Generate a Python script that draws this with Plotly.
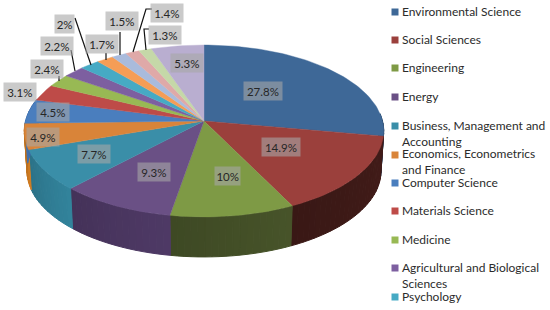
import math
import plotly.graph_objects as go

categories = ["Environmental Science", "Social Sciences", "Engineering", "Energy",
              "Business, Management and Accounting", "Economics, Econometrics and Finance",
              "Computer Science", "Materials Science", "Medicine",
              "Agricultural and Biological Sciences", "Psychology", "Arts and Humanities",
              "Chemistry", "Earth and Planetary Sciences", "Biochemistry", "Other"]
values = [27.8, 14.9, 10, 9.3, 7.7, 4.9, 4.5, 3.1, 2.4, 2.2, 2, 1.7, 1.5, 1.4, 1.3, 5.3]
value_labels = ["27.8%", "14.9%", "10%", "9.3%", "7.7%", "4.9%", "4.5%", "3.1%", "2.4%",
                "2.2%", "2%", "1.7%", "1.5%", "1.4%", "1.3%", "5.3%"]
colors = ["#3E6897", "#9B403C", "#7E9A45", "#6A5085", "#3A8EA8", "#D98439", "#4A7EBE",
          "#BE4B48", "#98B954", "#7D5FA0", "#46AAC4", "#F59D56", "#A9BBDC", "#DFA9A8",
          "#C5D8A8", "#B9AED0"]
wall_colors = ["#2A4666", "#3E1A17", "#434F27", "#4A3660", "#2F7C93", "#C9771F", "#3D6CA8",
               "#A8403D", "#85A348", "#6D5290", "#3A94AC", "#D98A48", "#93A5C4", "#C49494",
               "#AEC092", "#A398B8"]

# chart geometry (pixels)
CX, CY, A, B, P, DEPTH, SHRINK = 204.0, 121.0, 178.5, 84.8, 0.116, 40.0, 0.985
label_pos = [(263, 91), (281, 147), (227, 176), (154, 172), (94, 154), (43, 137), (53, 112),
             (20, 92), (47, 69), (57, 46), (64, 24), (102, 44), (122, 21), (167, 13),
             (165, 35), (187, 63)]
leaders = [[(59, 76), (59, 81)], [(71, 50), (75, 71)], [(75, 18), (91, 65)], [(106, 53), (106, 60)],
           [(120, 32), (120, 55)], [(152, 9), (146, 9), (133, 52)], [(149, 29), (144, 29), (146, 50)]]
legend_rows = [("Environmental Science", 12), ("Social Sciences", 40), ("Engineering", 68),
               ("Energy", 97), ("Business, Management and", 126), ("Accounting", None),
               ("Economics, Econometrics", 155), ("and Finance", None), ("Computer Science", 183),
               ("Materials Science", 211), ("Medicine", 240), ("Agricultural and Biological", 268),
               ("Sciences", None), ("Psychology", 297)]
legend_text_y = [11, 39, 67, 96, 125, 141, 153, 169, 182, 210, 239, 267, 283, 296]
legend_colors = colors[:11]


def project(theta, bottom=False):
    u, v = math.sin(theta), math.cos(theta)
    w = 1 + P * v
    x, y = A * u / w, B * v / w
    if bottom:
        return CX + x * SHRINK, CY - y + DEPTH
    return CX + x, CY - y


def mix(c, f):
    r, g, b = int(c[1:3], 16), int(c[3:5], 16), int(c[5:7], 16)
    return "#%02x%02x%02x" % tuple(min(255, max(0, round(k * f))) for k in (r, g, b))


fig = go.Figure()
total = sum(values)
edges = [0.0]
for v in values:
    edges.append(edges[-1] + v / total * 2 * math.pi)

# side walls: split into thin strips so the shading varies along the rim
VIS_LO, VIS_HI = math.radians(85), math.radians(285)
for i, name in enumerate(categories):
    lo, hi = max(edges[i], VIS_LO), min(edges[i + 1], VIS_HI)
    if hi <= lo:
        continue
    n = max(1, int((hi - lo) / math.radians(2)))
    for s in range(n):
        t0, t1 = lo + (hi - lo) * s / n, lo + (hi - lo) * (s + 1) / n
        top = [project(t0), project(t1)]
        bot = [project(t1, True), project(t0, True)]
        poly = top + bot + [top[0]]
        col = mix(wall_colors[i], 1.06 - 0.14 * abs((s + 0.5) / n))
        fig.add_trace(go.Scatter(x=[p[0] for p in poly], y=[p[1] for p in poly], mode="lines",
                                 fill="toself", fillcolor=col, line=dict(color=col, width=1),
                                 name=name, showlegend=False, hoverinfo="skip"))

# top face
for i, name in enumerate(categories):
    lo, hi = edges[i], edges[i + 1]
    n = max(4, int((hi - lo) / math.radians(1.5)))
    rim = [project(lo + (hi - lo) * k / n) for k in range(n + 1)]
    poly = [(CX, CY)] + rim + [(CX, CY)]
    fig.add_trace(go.Scatter(x=[p[0] for p in poly], y=[p[1] for p in poly], mode="lines",
                             fill="toself", fillcolor=colors[i], line=dict(color=colors[i], width=0.4),
                             name=name, showlegend=False, hoverinfo="skip"))

# leader lines
for seg in leaders:
    fig.add_trace(go.Scatter(x=[p[0] for p in seg], y=[p[1] for p in seg], mode="lines",
                             line=dict(color="#111111", width=1.2), showlegend=False, hoverinfo="skip"))

# legend markers
marker_y = [r[1] for r in legend_rows if r[1] is not None]
fig.add_trace(go.Scatter(x=[395] * len(marker_y), y=marker_y, mode="markers",
                         marker=dict(symbol="square", size=7, color=legend_colors),
                         showlegend=False, hoverinfo="skip"))

annotations = []
for text, (x, y) in zip(value_labels, label_pos):
    annotations.append(dict(x=x, y=y, text=text, showarrow=False, xref="x", yref="y",
                            font=dict(family="Lato", size=11.5, color="#262626"),
                            bgcolor="rgba(167,167,167,0.6)", borderpad=0,
                            width=13 + 6.2 * (len(text) - 1), height=18, align="center", valign="middle"))
for (text, _), y in zip(legend_rows, legend_text_y):
    annotations.append(dict(x=400, y=y, text=text, showarrow=False, xref="x", yref="y",
                            xanchor="left", font=dict(family="Lato", size=12, color="#2b2b2b")))

fig.update_layout(width=550, height=310, margin=dict(l=0, r=0, t=0, b=0),
                  paper_bgcolor="white", plot_bgcolor="white", showlegend=False,
                  xaxis=dict(range=[0, 550], visible=False, fixedrange=True),
                  yaxis=dict(range=[310, 0], visible=False, fixedrange=True),
                  annotations=annotations)
fig.write_html("out.html", config=dict(displayModeBar=False),
               post_script="document.body.style.margin='0';")
